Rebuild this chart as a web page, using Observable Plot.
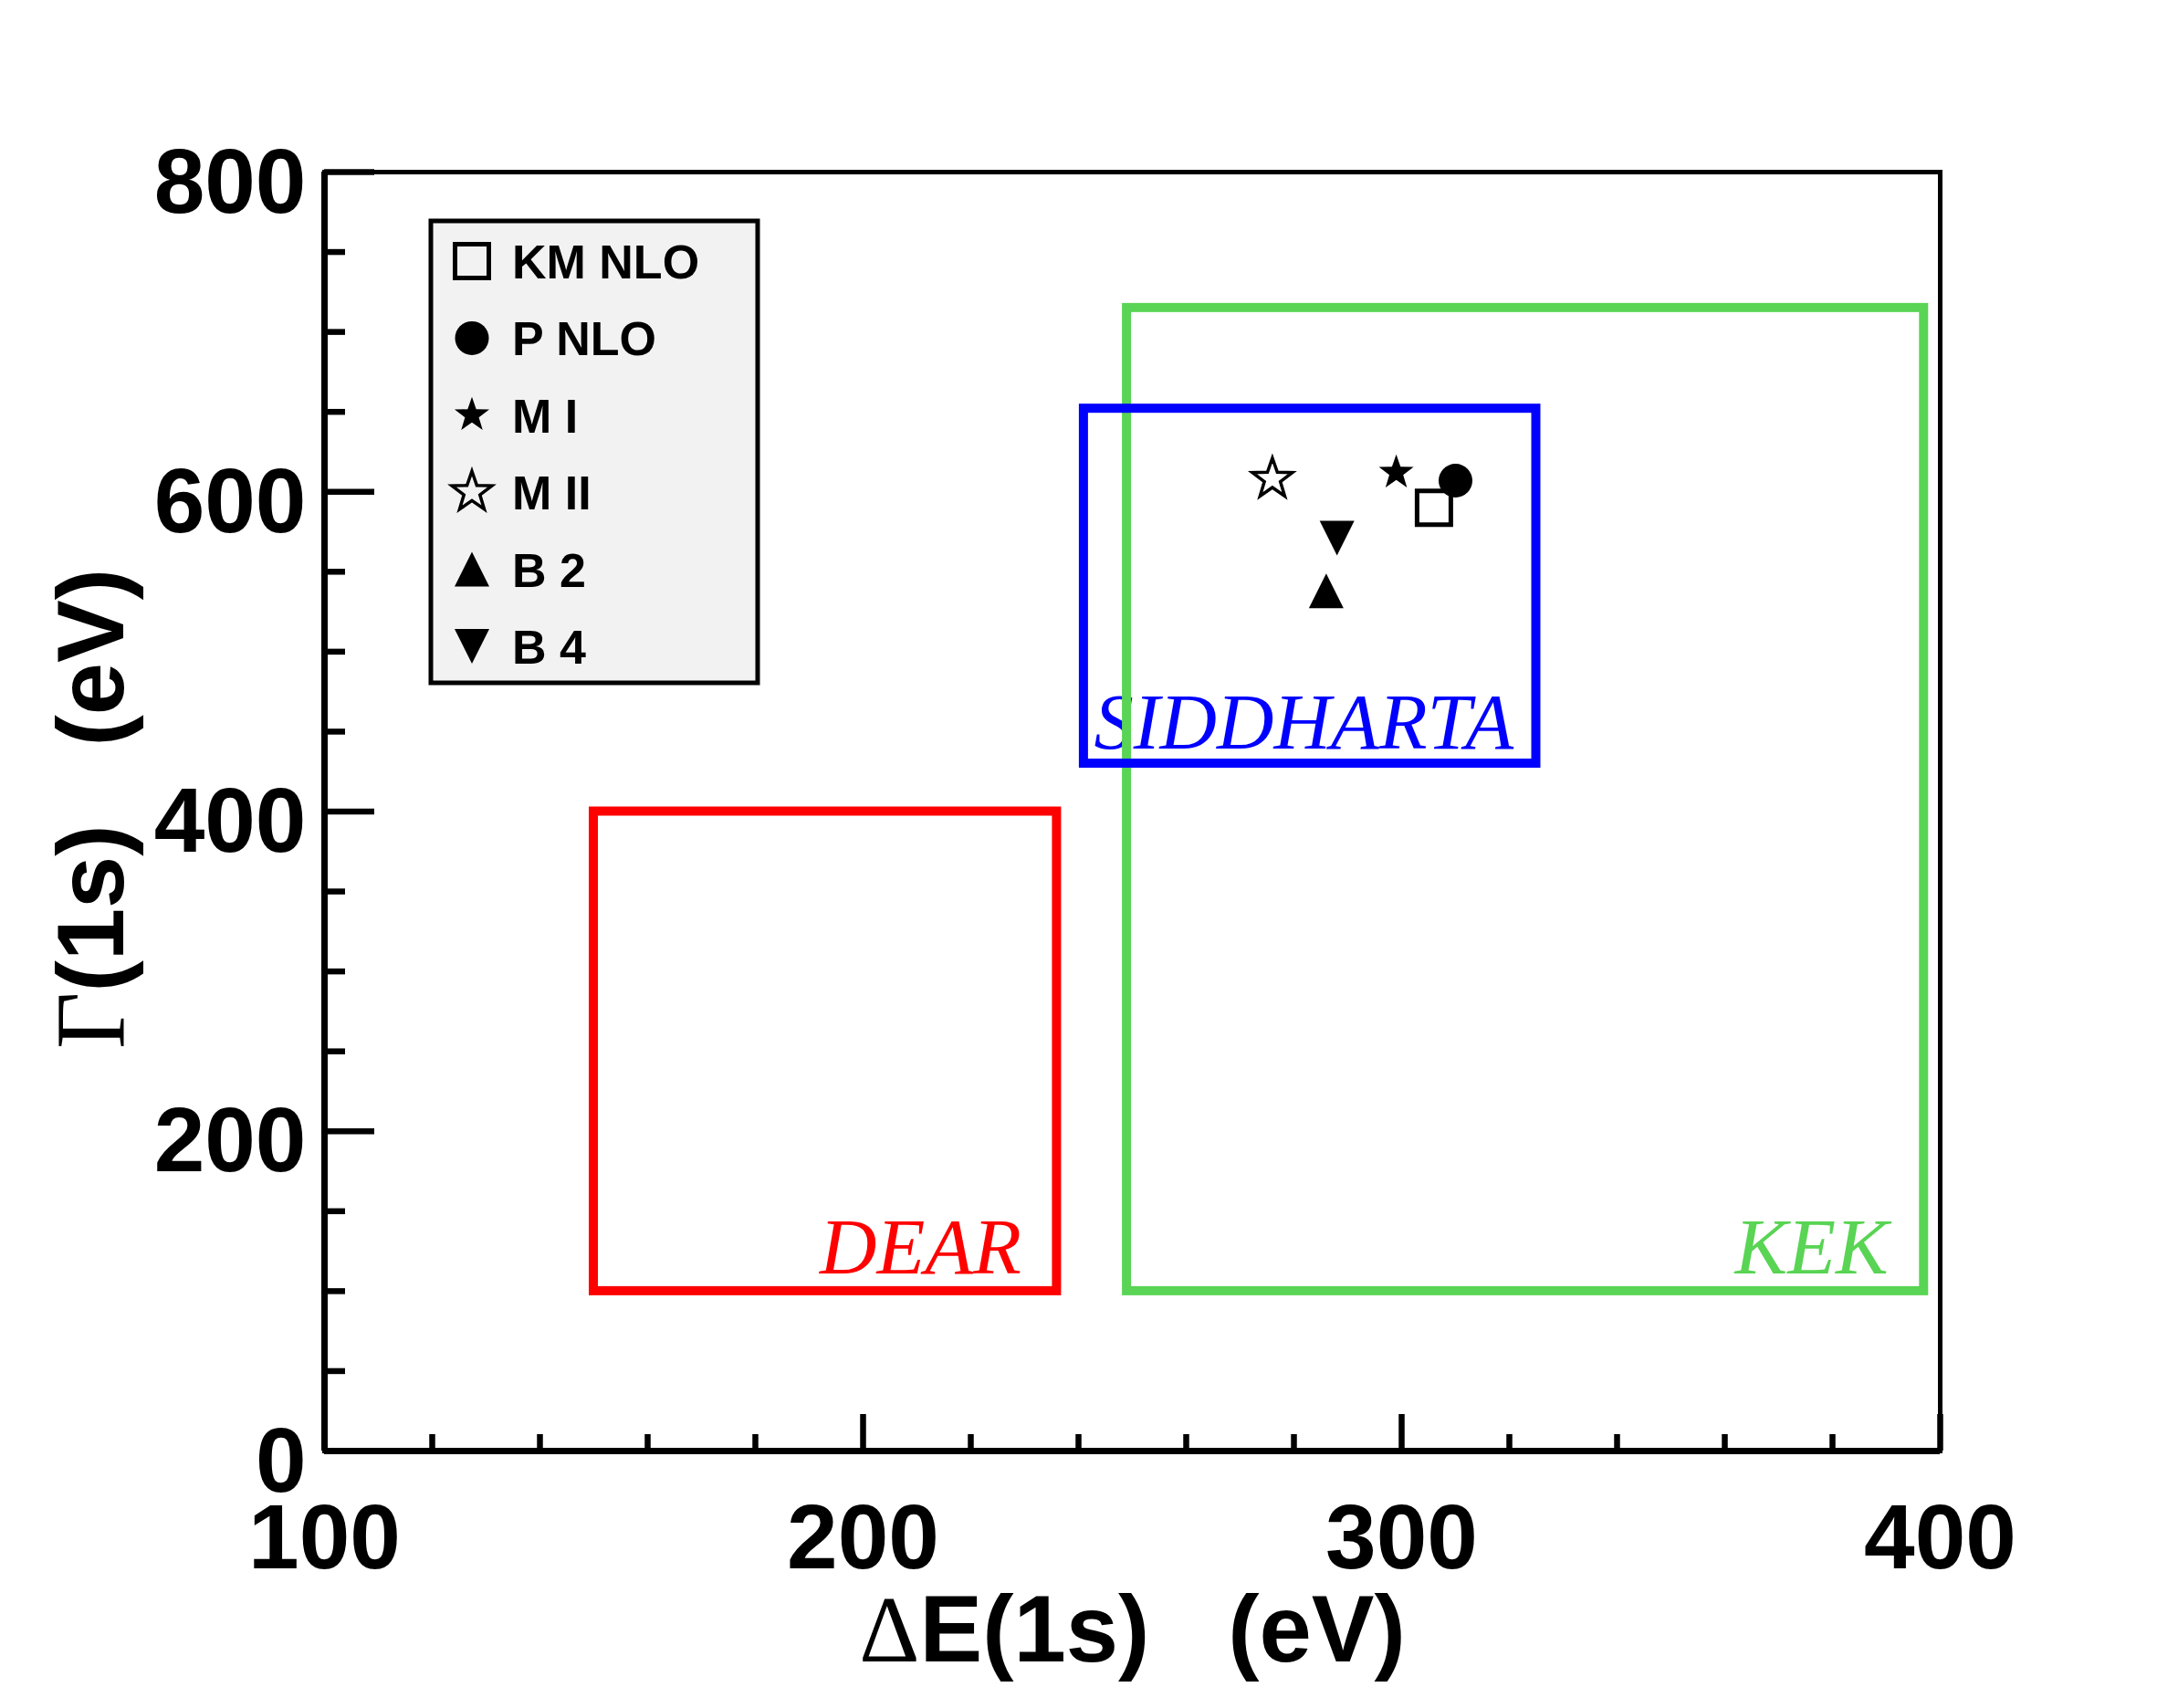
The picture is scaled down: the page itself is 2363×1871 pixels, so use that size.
<!DOCTYPE html>
<html>
<head>
<meta charset="utf-8">
<script src="https://cdn.jsdelivr.net/npm/d3@7"></script>
<script src="https://cdn.jsdelivr.net/npm/@observablehq/plot@0.6"></script>
<style>
  html, body { margin: 0; padding: 0; background: #ffffff; }
  svg { display: block; }
</style>
</head>
<body>
<div id="chart"></div>
<script>
// ---------------- data ----------------
const models = ["KM NLO", "P NLO", "M I", "M II", "B 2", "B 4"];
const deltaE = [306, 310, 299, 276, 286, 288];   // ΔE(1s) in eV
const gamma  = [590, 607, 612, 608, 538, 571];   // Γ(1s) in eV

const experiments = ["DEAR", "KEK", "SIDDHARTA"];
const expDeltaELow  = [150, 249, 241];
const expDeltaEHigh = [236, 397, 325];
const expGammaLow   = [100, 100, 430];
const expGammaHigh  = [400, 715, 652];

const xTicks = [100, 200, 300, 400];
const yTicks = [0, 200, 400, 600, 800];
const xTitle = "\u0394E(1s)\u00a0\u00a0\u00a0(eV)";
const yTitle = "\u0393(1s)\u00a0\u00a0\u00a0(eV)";

// ---------------- styles ----------------
const W = 2363, H = 1871;
const mL = 355, mR = 238, mT = 188, mB = 282;
const frameW = W - mL - mR, frameH = H - mT - mB;

const expColor = {DEAR: "#ff0000", KEK: "#59d454", SIDDHARTA: "#0000ff"};

// ROOT-like marker shapes (size = pi r^2, so s = r)
const symSquare = {draw(c, size) { const s = Math.sqrt(size / Math.PI);
  c.moveTo(-s, -s); c.lineTo(s, -s); c.lineTo(s, s); c.lineTo(-s, s); c.closePath(); }};
const symTriUp = {draw(c, size) { const s = Math.sqrt(size / Math.PI);
  c.moveTo(0, -s); c.lineTo(s, s); c.lineTo(-s, s); c.closePath(); }};
const symTriDown = {draw(c, size) { const s = Math.sqrt(size / Math.PI);
  c.moveTo(0, s); c.lineTo(s, -s); c.lineTo(-s, -s); c.closePath(); }};
const symStar = {draw(c, size) { const R = Math.sqrt(size / Math.PI), r = R * 0.4;
  for (let k = 0; k < 10; k++) {
    const a = -Math.PI / 2 + k * Math.PI / 5, rad = k % 2 ? r : R;
    const x = rad * Math.cos(a), y = rad * Math.sin(a);
    if (k) c.lineTo(x, y); else c.moveTo(x, y);
  }
  c.closePath(); }};
const symCircle = {draw(c, size) { const r = Math.sqrt(size / Math.PI);
  c.moveTo(r, 0); c.arc(0, 0, r, 0, 2 * Math.PI); }};

const markerStyle = {
  "KM NLO": {symbol: symSquare, r: 18.5, fill: "none", stroke: "black", strokeWidth: 5},
  "P NLO":  {symbol: symCircle, r: 18.5, fill: "black", stroke: "none"},
  "M I":    {symbol: symStar, r: 20, fill: "black", stroke: "none"},
  "M II":   {symbol: symStar, r: 23, fill: "none", stroke: "black", strokeWidth: 3.5},
  "B 2":    {symbol: symTriUp, r: 19, fill: "black", stroke: "none"},
  "B 4":    {symbol: symTriDown, r: 19, fill: "black", stroke: "none"}
};

const boxes = experiments.map((name, i) => ({
  name, x1: expDeltaELow[i], x2: expDeltaEHigh[i], y1: expGammaLow[i], y2: expGammaHigh[i]
}));
const points = models.map((name, i) => ({name, x: deltaE[i], y: gamma[i]}));

const xMinor = d3.range(100, 401, 20).filter(v => !xTicks.includes(v));
const yMinor = d3.range(0, 801, 50).filter(v => !yTicks.includes(v));

const boxOf = n => boxes.filter(b => b.name === n);
const serif = "'Liberation Serif', 'Times New Roman', serif";

const plot = Plot.plot({
  width: W, height: H,
  marginLeft: mL, marginRight: mR, marginTop: mT, marginBottom: mB,
  x: {domain: [100, 400]},
  y: {domain: [0, 800]},
  style: {fontFamily: "'Liberation Sans', Arial, Helvetica, sans-serif", background: "white", overflow: "visible", color: "black"},
  marks: [
    // experiment labels (under the boxes)
    Plot.text(boxes.filter(b => b.name !== "SIDDHARTA"), {
      x: "x2", y: "y1", text: "name", textAnchor: "end", lineAnchor: "bottom",
      dx: -39, dy: -19.5, fill: d => expColor[d.name],
      fontFamily: serif, fontStyle: "italic", fontSize: 86.5
    }),
    Plot.text(boxOf("SIDDHARTA"), {
      x: "x1", y: "y1", text: "name", textAnchor: "start", lineAnchor: "bottom",
      dx: 11, dy: -16, fill: d => expColor[d.name],
      fontFamily: serif, fontStyle: "italic", fontSize: 86.5
    }),
    // experiment boxes
    ...["KEK", "DEAR", "SIDDHARTA"].map(n => Plot.rect(boxOf(n), {
      x1: "x1", x2: "x2", y1: "y1", y2: "y2", fill: "none",
      stroke: expColor[n], strokeWidth: 10
    })),
    // model points
    ...points.map(p => Plot.dot([p], {x: "x", y: "y", ...markerStyle[p.name]})),
    // frame
    Plot.frame({stroke: "black", strokeWidth: 5}),
    Plot.ruleY([0], {stroke: "black", strokeWidth: 7}),
    Plot.ruleX([100], {stroke: "black", strokeWidth: 7}),
    // inward ticks
    Plot.ruleX(xTicks, {stroke: "black", strokeWidth: 6.5, insetTop: frameH - 40}),
    Plot.ruleX(xMinor, {stroke: "black", strokeWidth: 6.5, insetTop: frameH - 18}),
    Plot.ruleY(yTicks, {stroke: "black", strokeWidth: 6.5, insetRight: frameW - 55}),
    Plot.ruleY(yMinor, {stroke: "black", strokeWidth: 6.5, insetRight: frameW - 23}),
    // tick labels
    Plot.axisX({ticks: xTicks, tickSize: 0, tickPadding: 57, fontSize: 100, fontWeight: "bold",
      label: null, tickFormat: d => String(d)}),
    Plot.axisY({ticks: yTicks, tickSize: 0, tickPadding: 20, dy: 12, fontSize: 100, fontWeight: "bold",
      label: null, tickFormat: d => String(d)}),
    // axis titles
    Plot.text([xTitle], {text: d => d, frameAnchor: "bottom", textAnchor: "middle", lineAnchor: "bottom", dy: 230,
      fontSize: 103, fontWeight: "bold"}),
    Plot.text([yTitle], {text: d => d, frameAnchor: "left", textAnchor: "middle", lineAnchor: "bottom", rotate: -90,
      dx: -221, dy: -3, fontSize: 103, fontWeight: "bold"})
  ]
});

document.getElementById("chart").appendChild(plot);

// Greek letters in a serif face, as in the original
function greekify(full, first, size) {
  d3.select(plot).selectAll("text").filter(function() { return this.textContent === full; })
    .each(function() {
      const t = d3.select(this);
      t.text(null);
      t.append("tspan").attr("font-family", serif)
        .attr("font-weight", "normal").attr("font-size", size).text(first);
      t.append("tspan").text(full.slice(first.length));
    });
}
greekify(xTitle, "\u0394", 103);
greekify(yTitle, "\u0393", 108);

// legend (inside the frame, top-left)
const legX = mL + 117, legY = mT + 54, legW = 358, legH = 506, rowH = 84.4;
const leg = d3.select(plot).append("g").attr("transform", `translate(${legX},${legY})`);
leg.append("rect").attr("width", legW).attr("height", legH)
  .attr("fill", "#f2f2f2").attr("stroke", "black").attr("stroke-width", 5);
models.forEach((name, i) => {
  const st = markerStyle[name];
  const cy = 44 + i * rowH;
  leg.append("path")
    .attr("transform", `translate(45,${cy})`)
    .attr("d", d3.symbol(st.symbol, st.r * st.r * Math.PI)())
    .attr("fill", st.fill).attr("stroke", st.stroke)
    .attr("stroke-width", st.strokeWidth || null);
  leg.append("text").attr("x", 89).attr("y", cy + 19)
    .attr("text-anchor", "start")
    .attr("font-family", "'Liberation Sans', Arial, sans-serif")
    .attr("font-weight", "bold").attr("font-size", 52).attr("fill", "black")
    .text(name);
});
</script>
</body>
</html>
